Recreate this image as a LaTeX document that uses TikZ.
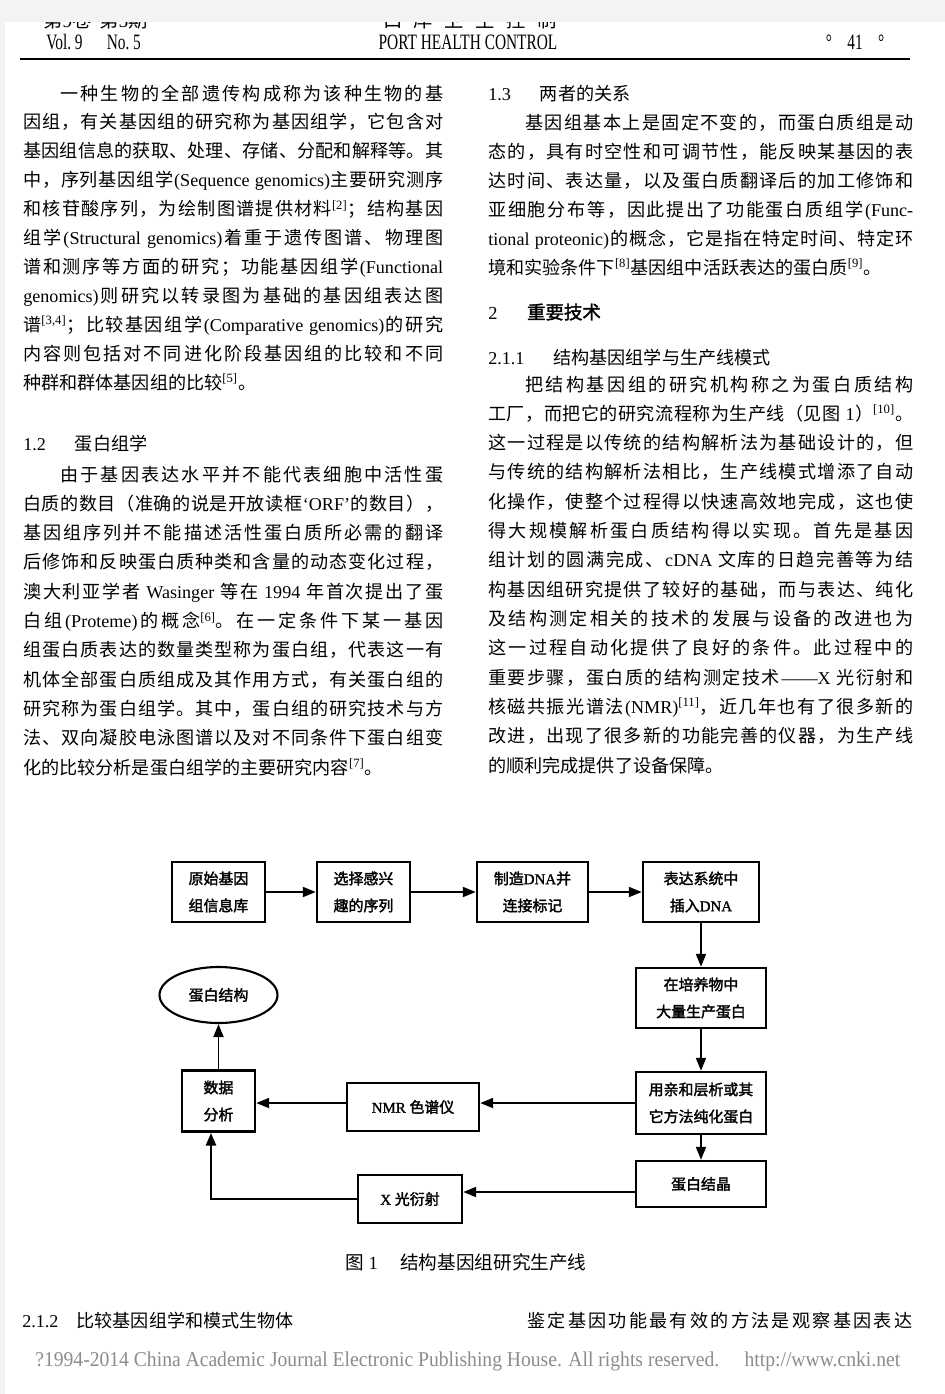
\documentclass[tikz,border=0pt]{standalone}
\usepackage{fontspec}
\usetikzlibrary{arrows.meta,shapes.geometric}

\setmainfont{Liberation Serif}
\newfontfamily\latfont{Liberation Serif}
\newfontfamily\latbfont[FakeBold=1.2]{Liberation Serif}
\newfontfamily\cjkfont{Noto Sans CJK SC}
\newfontfamily\cjkbold[FakeBold=2]{Noto Sans CJK SC}
\newfontfamily\hdrfont[FakeStretch=0.7]{Liberation Serif}
\newfontfamily\cpyfont[FakeStretch=0.93]{Liberation Serif}

\definecolor{pagebg}{HTML}{F3F3F3}
\definecolor{cpygray}{HTML}{8C8C8C}

\newcommand\cjkcur{\cjkfont}
\newcommand\latcur{\latfont}
\newcommand\bodyfont{\fontsize{10.3pt}{12pt}\selectfont}
\newcommand\capfont{\fontsize{10.6pt}{12pt}\selectfont}
\newcommand\fcfont{\def\cjkcur{\cjkbold}\def\latcur{\latbfont}\fontsize{8.5pt}{15.4pt}\selectfont\latbfont}

\newcount\cjkn
\chardef\cjkclass=77
\newcommand\cjkrange[2]{%
  \cjkn=#1\relax
  \loop
    \XeTeXcharclass\cjkn=\cjkclass
  \ifnum\cjkn<#2\relax
    \advance\cjkn by 1\relax
  \repeat}
\cjkrange{"3000}{"303F}
\cjkrange{"4E00}{"9FFF}
\cjkrange{"FF00}{"FFEF}
\XeTeXcharclass"2018=0 \XeTeXcharclass"2019=0
\XeTeXcharclass"2014=0 \XeTeXcharclass"00B0=0
\XeTeXinterchartoks 0 \cjkclass = {\hskip 0pt plus 1.5pt\relax\cjkcur}
\XeTeXinterchartoks 4095 \cjkclass = {\cjkcur}
\XeTeXinterchartoks \cjkclass \cjkclass = {\hskip 0pt plus 1.5pt\relax}
\XeTeXinterchartoks \cjkclass 0 = {\hskip 0pt plus 1.5pt\relax\latcur}
\XeTeXinterchartoks \cjkclass 4095 = {\latcur}
\XeTeXinterchartokenstate=1

\begin{document}
\begin{tikzpicture}[x=0.02cm, y=-0.02cm,
    stage/.style={draw, line width=1.4pt, align=center, font=\fcfont, inner sep=0pt},
    flow/.style={-{Triangle[length=0.26cm,width=0.2cm]}, line width=1.1pt},
    txt/.style={anchor=base west, inner sep=0pt, font=\bodyfont},
    hdr/.style={anchor=base, inner sep=0pt, font=\hdrfont\fontsize{12.5pt}{14pt}\selectfont}]
  \useasboundingbox (0,0) rectangle (945,1394);
  \fill[pagebg] (0,0) rectangle (945,1394);
  \fill[white] (5,22) rectangle (945,1394);
  \node[anchor=base west, inner sep=0pt, font=\fontsize{11pt}{13pt}\selectfont] (vol0) at (43,27) {第9卷\hspace{0.4em}第5期};
  \node[anchor=base, inner sep=0pt, font=\fontsize{11pt}{13pt}\selectfont] (jnl0) at (470,27) {口\hspace{0.6em}岸\hspace{0.6em}卫\hspace{0.6em}生\hspace{0.6em}控\hspace{0.6em}制};
  \fill[pagebg] (0,0) rectangle (945,22);
  \node[hdr, anchor=base west] (vol) at (46,49) {Vol.\,9\hspace{1.1em}No.\,5};
  \node[hdr] (jnl) at (468,49) {PORT HEALTH CONTROL};
  \node[hdr] (pno) at (855,49) {°\hspace{0.7em}41\hspace{0.7em}°};
  \draw[line width=1pt] (20,59) -- (910,59);

  \node[txt] (la0) at (60,100) {\makebox[7.66cm][s]{一种生物的全部遗传构成称为该种生物的基}};
  \foreach \tline [count=\k] in {
      {因组，有关基因组的研究称为基因组学，它包含对},
      {基因组信息的获取、处理、存储、分配和解释等。其},
      {中，序列基因组学(Sequence genomics)主要研究测序},
      {和核苷酸序列，为绘制图谱提供材料\textsuperscript{[2]}；结构基因},
      {组学(Structural genomics)着重于遗传图谱、物理图},
      {谱和测序等方面的研究；功能基因组学(Functional},
      {genomics)则研究以转录图为基础的基因组表达图},
      {谱\textsuperscript{[3,4]}；比较基因组学(Comparative genomics)的研究},
      {内容则包括对不同进化阶段基因组的比较和不同}}
    \node[txt] (la\k) at (23,{100+28.9*\k}) {\makebox[8.4cm][s]{\tline}};
  \node[txt] (la10) at (23,389) {种群和群体基因组的比较\textsuperscript{[5]}。};

  \node[txt] (hb) at (23,450) {1.2\hspace{1.6em}蛋白组学};
  \node[txt] (lb0) at (60,481) {\makebox[7.66cm][s]{由于基因表达水平并不能代表细胞中活性蛋}};
  \foreach \tline [count=\k] in {
      {白质的数目（准确的说是开放读框‘ORF’的数目），},
      {基因组序列并不能描述活性蛋白质所必需的翻译},
      {后修饰和反映蛋白质种类和含量的动态变化过程，},
      {澳大利亚学者 Wasinger 等在 1994 年首次提出了蛋},
      {白组(Proteme)的概念\textsuperscript{[6]}。在一定条件下某一基因},
      {组蛋白质表达的数量类型称为蛋白组，代表这一有},
      {机体全部蛋白质组成及其作用方式，有关蛋白组的},
      {研究称为蛋白组学。其中，蛋白组的研究技术与方},
      {法、双向凝胶电泳图谱以及对不同条件下蛋白组变}}
    \node[txt] (lb\k) at (23,{481+29.3*\k}) {\makebox[8.4cm][s]{\tline}};
  \node[txt] (lb10) at (23,774) {化的比较分析是蛋白组学的主要研究内容\textsuperscript{[7]}。};

  \node[txt] (hc) at (488,100) {1.3\hspace{1.6em}两者的关系};
  \node[txt] (lc0) at (525,129) {\makebox[7.76cm][s]{基因组基本上是固定不变的，而蛋白质组是动}};
  \foreach \tline [count=\k] in {
      {态的，具有时空性和可调节性，能反映某基因的表},
      {达时间、表达量，以及蛋白质翻译后的加工修饰和},
      {亚细胞分布等，因此提出了功能蛋白质组学(Func-},
      {tional proteonic)的概念，它是指在特定时间、特定环}}
    \node[txt] (lc\k) at (488,{129+29*\k}) {\makebox[8.5cm][s]{\tline}};
  \node[txt] (lc5) at (488,274) {境和实验条件下\textsuperscript{[8]}基因组中活跃表达的蛋白质\textsuperscript{[9]}。};

  \node[txt, font=\fontsize{10.5pt}{12pt}\selectfont\def\cjkcur{\cjkbold}] (hd) at (488,319) {2\hspace{1.6em}重要技术};
  \node[txt] (he) at (488,364) {2.1.1\hspace{1.6em}结构基因组学与生产线模式};
  \node[txt] (le0) at (525,391) {\makebox[7.76cm][s]{把结构基因组的研究机构称之为蛋白质结构}};
  \foreach \tline [count=\k] in {
      {工厂，而把它的研究流程称为生产线（见图 1）\textsuperscript{[10]}。},
      {这一过程是以传统的结构解析法为基础设计的，但},
      {与传统的结构解析法相比，生产线模式增添了自动},
      {化操作，使整个过程得以快速高效地完成，这也使},
      {得大规模解析蛋白质结构得以实现。首先是基因},
      {组计划的圆满完成、cDNA 文库的日趋完善等为结},
      {构基因组研究提供了较好的基础，而与表达、纯化},
      {及结构测定相关的技术的发展与设备的改进也为},
      {这一过程自动化提供了良好的条件。此过程中的},
      {重要步骤，蛋白质的结构测定技术——X 光衍射和},
      {核磁共振光谱法(NMR)\textsuperscript{[11]}，近几年也有了很多新的},
      {改进，出现了很多新的功能完善的仪器，为生产线}}
    \node[txt] (le\k) at (488,{391+29.3*\k}) {\makebox[8.5cm][s]{\tline}};
  \node[txt] (le13) at (488,772) {的顺利完成提供了设备保障。};

  \node[stage, minimum width=1.86cm, minimum height=1.2cm] (raw) at (218.5,892) {原始基因\\组信息库};
  \node[stage, minimum width=1.86cm, minimum height=1.2cm] (sel) at (363.5,892) {选择感兴\\趣的序列};
  \node[stage, minimum width=2.22cm, minimum height=1.2cm] (mkd) at (532.5,892) {制造DNA并\\连接标记};
  \node[stage, minimum width=2.32cm, minimum height=1.2cm] (ins) at (701,892) {表达系统中\\插入DNA};
  \node[stage, minimum width=2.6cm, minimum height=1.2cm] (cul) at (701,998) {在培养物中\\大量生产蛋白};
  \node[stage, minimum width=2.6cm, minimum height=1.24cm] (pur) at (701,1103) {用亲和层析或其\\它方法纯化蛋白};
  \node[stage, minimum width=2.6cm, minimum height=0.92cm] (cry) at (701,1184) {蛋白结晶};
  \node[stage, minimum width=2.08cm, minimum height=0.96cm] (xrd) at (410,1199) {X 光衍射};
  \node[stage, minimum width=2.64cm, minimum height=0.96cm] (nmr) at (413,1107) {NMR 色谱仪};
  \node[stage, minimum width=1.46cm, minimum height=1.22cm] (ana) at (218.5,1101) {数据\\分析};
  \node[stage, ellipse, line width=1.2pt, minimum width=2.36cm, minimum height=1.12cm] (res) at (218.5,995) {蛋白结构};

  \draw[flow] (raw) edge (sel)
              (sel) edge (mkd)
              (mkd) edge (ins)
              (ins) edge (cul)
              (cul) edge (pur)
              (pur) edge (cry)
              (ana) edge (res);
  \draw[flow] (pur) -- (pur -| nmr.east);
  \draw[flow] (pur -| nmr.west) -- (pur -| ana.east);
  \draw[flow] ([yshift=-0.16cm]cry.west) -- ([yshift=-0.16cm]cry.west -| xrd.east);
  \draw[flow, line width=1.6pt] (xrd) -| ([xshift=-0.15cm]ana.south);

  \node[font=\capfont] (cap) at (466,1262) {图 1\hspace{1.2em}结构基因组研究生产线};

  \node[txt] (lf) at (22,1327) {2.1.2\hspace{1em}比较基因组学和模式生物体};
  \node[txt] (rf) at (527,1327) {\makebox[7.7cm][s]{鉴定基因功能最有效的方法是观察基因表达}};
  \node[anchor=base west, inner sep=0pt, text=cpygray, font=\cpyfont\fontsize{12pt}{14pt}\selectfont] (cpy) at (35,1366) {?1994-2014 China Academic Journal Electronic Publishing House. All rights reserved.\hspace{1.2em}http://www.cnki.net};
\end{tikzpicture}
\end{document}
